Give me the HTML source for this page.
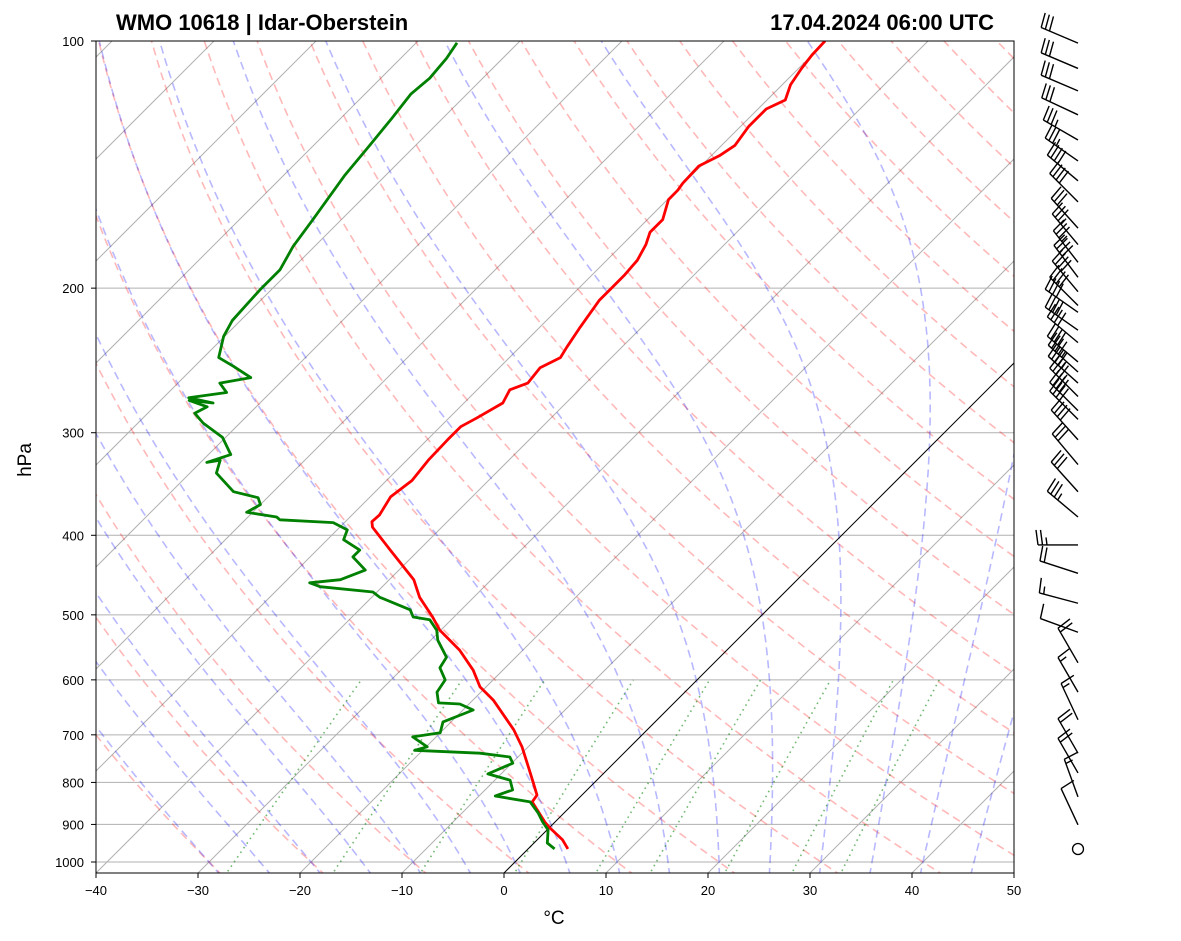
<!DOCTYPE html>
<html><head><meta charset="utf-8"><style>
html,body{margin:0;padding:0;background:#fff;}
svg{display:block;font-family:"Liberation Sans","DejaVu Sans",sans-serif;}
</style></head><body>
<svg id="chart" width="1181" height="941" viewBox="0 0 1181 941" xmlns="http://www.w3.org/2000/svg">
<defs><clipPath id="plotclip"><rect x="96" y="41" width="918" height="832"/></clipPath></defs>
<rect width="1181" height="941" fill="#fff"/>
<text x="116" y="30" font-size="22" font-weight="bold">WMO 10618 | Idar-Oberstein</text>
<text x="994" y="30" font-size="22" font-weight="bold" text-anchor="end">17.04.2024 06:00 UTC</text>
<g id="bg" clip-path="url(#plotclip)"></g>
<g id="prof" clip-path="url(#plotclip)"></g>
<rect x="96" y="41" width="918" height="832" fill="none" stroke="#000" stroke-width="1"/>
<g id="axes"></g>
<text x="554" y="924" font-size="19" text-anchor="middle">°C</text>
<text x="31" y="460" font-size="19" text-anchor="middle" transform="rotate(-90 31 460)">hPa</text>
<g id="barbs"></g>
</svg>
<script>
const tempP=[964,940,909,894,845,829,795,766,724,690,635,612,584,552,522,503,476,453,417,391,385,378,359,343,324,306,295,288,276,266,261,250,243,236,224,207,200,193,185,177,171,165,156,152,149,142,138,134,127,121,118,113,108,104,100];
const tempT=[3.9,2.5,0.1,-1.0,-4.2,-4.4,-6.3,-8.0,-10.6,-13.1,-18.0,-20.6,-22.9,-26.2,-30.1,-32.1,-35.3,-37.6,-42.8,-46.8,-47.4,-47.3,-48.0,-47.5,-47.9,-48.0,-48.0,-47.3,-46.2,-46.8,-45.7,-46.0,-45.0,-45.4,-46.0,-46.8,-46.8,-46.8,-47.0,-47.7,-48.5,-48.5,-49.9,-49.9,-50.1,-50.2,-49.2,-48.7,-49.2,-49.2,-48.2,-49.2,-49.7,-50.0,-50.1];
const dewP=[964,948,914,894,872,845,831,817,795,781,758,745,737,731,724,704,696,675,653,642,640,621,600,580,563,537,522,507,503,493,476,469,462,457,453,441,425,417,405,394,386,383,380,375,367,360,354,336,324,326,319,304,292,284,279,274,276,272,268,261,257,249,243,229,219,201,190,178,165,146,134,124,116,111,105,100.5];
const dewT=[2.6,1.3,0.1,-1.2,-2.5,-4.4,-8.4,-7.3,-8.5,-11.3,-9.9,-10.8,-14.1,-20.8,-19.9,-22.3,-20.0,-20.8,-19.0,-20.9,-23.1,-24.3,-24.7,-26.4,-26.8,-29.3,-30.4,-32.1,-34.0,-35.0,-39.2,-40.4,-46.1,-47.5,-44.8,-43.3,-45.8,-45.8,-48.4,-49.0,-51.1,-56.6,-57.2,-60.6,-60.0,-60.9,-63.9,-67.4,-68.3,-69.4,-67.8,-70.3,-73.6,-75.4,-74.8,-77.2,-74.6,-77.5,-74.3,-75.9,-73.4,-76.2,-78.5,-80.1,-80.8,-81.1,-81.1,-82.1,-82.8,-84.0,-84.5,-85.0,-85.5,-85.2,-85.5,-86.0];
const xTicks=[-40,-30,-20,-10,0,10,20,30,40,50];
const pTicks=[100,200,300,400,500,600,700,800,900,1000];
const isotherms=[-160,-150,-140,-130,-120,-110,-100,-90,-80,-70,-60,-50,-40,-30,-20,-10,10,20,30,40,50];
const dryT0=[-30,-20,-10,0,10,20,30,40,50,60,70,80,90,100,110,120,130,140,150,160,170,180,190];
const moistT0=[-30,-25,-20,-15,-10,-5,0,5,10,15,20,25,30,35,40,45];
const mixW=[0.0004,0.001,0.002,0.004,0.007,0.01,0.016,0.024,0.032];
const barbP=[100.6,108,115,123,132,140,148,157,169,177,186,194,202,210,214,225,233,246,253,261,271,282,289,306,328,354,380,411,445,484,525,572,621,671,737,779,833,901];
const barbDir=[293,293,293,295,300,305,310,315,318,320,322,323,320,315,305,305,310,310,312,312,315,315,315,318,320,318,310,270,288,285,290,330,330,335,330,330,340,335];
const barbSpd=[30,30,30,30,35,35,40,40,30,35,35,40,40,40,40,40,40,40,45,45,45,40,40,40,30,30,35,25,20,15,10,20,15,15,20,20,15,10];

const NS='http://www.w3.org/2000/svg';
function yOf(p){return 862-821*Math.log10(1000/p);}
function xOf(t,p){return 96+(t+40)*10.2+(873-yOf(p));}
function mk(tag,attrs,parent){const e=document.createElementNS(NS,tag);for(const k in attrs)e.setAttribute(k,attrs[k]);parent.appendChild(e);return e;}
function pathD(ts,ps){let d='';for(let i=0;i<ts.length;i++){d+=(i?'L':'M')+xOf(ts[i],ps[i]).toFixed(1)+','+yOf(ps[i]).toFixed(1);}return d;}
const bg=document.getElementById('bg'),prof=document.getElementById('prof'),axes=document.getElementById('axes'),barbs=document.getElementById('barbs');
const pLev=[];for(let p=1040;p>=95;p-=5)pLev.push(p);

pTicks.forEach(p=>{const l=mk('line',{x1:96,x2:1014,y1:yOf(p),y2:yOf(p),stroke:'#b0b0b0','stroke-width':1},bg);

});
isotherms.forEach(t=>{const l=mk('line',{x1:xOf(t,1040),y1:yOf(1040),x2:xOf(t,95),y2:yOf(95),stroke:'#b0b0b0','stroke-width':1},bg);

});
dryT0.forEach(t0=>{const th=t0+273.15;const ts=pLev.map(p=>th*Math.pow(p/1000,0.2857)-273.15);
const e=mk('path',{d:pathD(ts,pLev),fill:'none',stroke:'rgba(255,0,0,0.28)','stroke-width':1.6,'stroke-dasharray':'8,5'},bg);

});
function es(tc){return 6.112*Math.exp(17.67*tc/(tc+243.5));}
function dTdp(T,p){const Rd=287.04,Cp=1005.7,Lv=2.501e6,eps=0.622;const e=es(T-273.15);const rs=eps*e/(p-e);
return (1/p)*(Rd*T+Lv*rs)/(Cp+Lv*Lv*rs*eps/(Rd*T*T));}
function moist(t0){const res={};let T=t0+273.15;res[1000]=T;
let p=1000;while(p<1040){T+=dTdp(T,p);p+=1;if(p%5===0)res[p]=T;}
T=t0+273.15;p=1000;while(p>95){T-=dTdp(T,p);p-=1;if(p%5===0)res[p]=T;}
return pLev.map(q=>res[q]-273.15);}
moistT0.forEach(t0=>{const ts=moist(t0);
const e=mk('path',{d:pathD(ts,pLev),fill:'none',stroke:'rgba(0,0,255,0.28)','stroke-width':1.6,'stroke-dasharray':'8,5'},bg);

});
const mixP=[];for(let p=1040;p>=600;p-=10)mixP.push(p);
mixW.forEach(w=>{const ts=mixP.map(p=>{const e=p*w/(0.622+w);const l=Math.log(e/6.112);return 243.5*l/(17.67-l);});
const e=mk('path',{d:pathD(ts,mixP),fill:'none',stroke:'rgba(0,128,0,0.55)','stroke-width':1.6,'stroke-dasharray':'1.6,4'},bg);

});
const z=mk('line',{x1:xOf(0,1040),y1:yOf(1040),x2:xOf(0,95),y2:yOf(95),stroke:'#000','stroke-width':1},bg);


const tl=mk('path',{d:pathD(tempT,tempP),fill:'none',stroke:'#ff0000','stroke-width':2.8,'stroke-linejoin':'round'},prof);


const dl=mk('path',{d:pathD(dewT,dewP),fill:'none',stroke:'#008000','stroke-width':2.8,'stroke-linejoin':'round'},prof);


xTicks.forEach(t=>{const x=96+(t+40)*10.2;mk('line',{x1:x,x2:x,y1:873,y2:878,stroke:'#000'},axes);
const tx=mk('text',{x:x,y:895,'font-size':13,'text-anchor':'middle'},axes);tx.textContent=t<0?'\u2212'+(-t):String(t);

});
pTicks.forEach(p=>{const y=yOf(p);mk('line',{x1:91,x2:96,y1:y,y2:y,stroke:'#000'},axes);
const tx=mk('text',{x:84,y:y+5,'font-size':13,'text-anchor':'end'},axes);tx.textContent=p;

});
const bx=1078,L=40;
barbP.forEach((p,i)=>{const y=yOf(p);const g=mk('g',{},barbs);


const d=barbDir[i]*Math.PI/180;const ux=Math.sin(d),uy=-Math.cos(d);const vx=-uy,vy=ux;
const tx=bx+ux*L,ty=y+uy*L;mk('line',{x1:bx,y1:y,x2:tx,y2:ty,stroke:'#000','stroke-width':1.4},g);
let s=barbSpd[i];let k=0;const fl=15;
while(s>=10){const px=tx-ux*k*4.5,py=ty-uy*k*4.5;mk('line',{x1:px,y1:py,x2:px+vx*fl+ux*2,y2:py+vy*fl+uy*2,stroke:'#000','stroke-width':1.4},g);s-=10;k++;}
if(s>=5){if(k===0)k=1;const px=tx-ux*k*4.5,py=ty-uy*k*4.5;mk('line',{x1:px,y1:py,x2:px+vx*fl/2+ux,y2:py+vy*fl/2+uy,stroke:'#000','stroke-width':1.4},g);}
});
const c=mk('circle',{cx:bx,cy:849,r:5.5,fill:'none',stroke:'#000','stroke-width':1.3},barbs);


</script>
</body></html>
